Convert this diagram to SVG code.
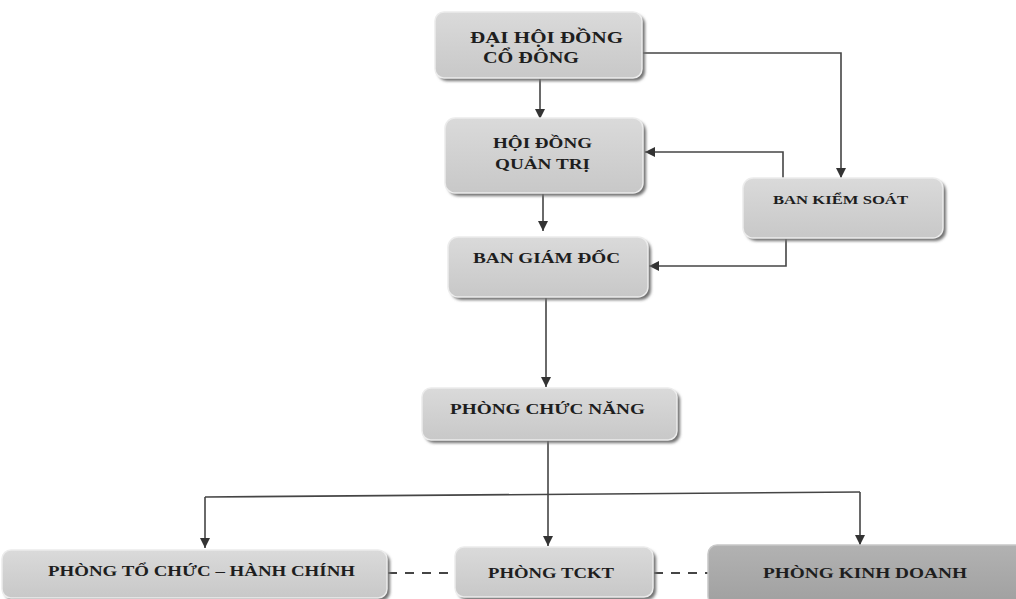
<svg xmlns="http://www.w3.org/2000/svg" width="1016" height="599" viewBox="0 0 1016 599">
<style>
.box{fill:url(#g);stroke:#ececec;stroke-width:1.5}
.dark{fill:url(#gd);stroke:#c8c8c8;stroke-width:1.5}
.sh{fill:#707070;filter:url(#blur)}
.t{font-family:"Liberation Serif","Times New Roman",serif;font-weight:bold;font-size:15px;fill:#1e1e1e;text-anchor:middle}
.ln{fill:none;stroke:#454545;stroke-width:1.6}
.dash{fill:none;stroke:#454545;stroke-width:1.8;stroke-dasharray:9 8}
</style>
<defs>
<linearGradient id="g" x1="0" y1="0" x2="0" y2="1">
<stop offset="0" stop-color="#dadada"/>
<stop offset="1" stop-color="#c8c8c8"/>
</linearGradient>
<linearGradient id="gd" x1="0" y1="0" x2="0" y2="1">
<stop offset="0" stop-color="#b2b2b2"/>
<stop offset="1" stop-color="#a0a0a0"/>
</linearGradient>
<filter id="blur" x="-10%" y="-20%" width="120%" height="140%">
<feGaussianBlur stdDeviation="1.5"/>
</filter>
<marker id="ah" viewBox="0 0 10 10" refX="10" refY="5" markerWidth="10" markerHeight="10" markerUnits="userSpaceOnUse" orient="auto">
<path d="M0,0 L10,5 L0,10 Z" fill="#333333"/>
</marker>
</defs>
<rect width="1016" height="599" fill="#ffffff"/>

<g id="connectors">
<line class="ln" x1="540" y1="78" x2="540" y2="119" marker-end="url(#ah)"/>
<polyline class="ln" points="642,53 841,53 841,178" marker-end="url(#ah)"/>
<line class="ln" x1="543" y1="193" x2="543" y2="231" marker-end="url(#ah)"/>
<polyline class="ln" points="783,178 783,152 645,152" marker-end="url(#ah)"/>
<polyline class="ln" points="786,238 786,266 649,266" marker-end="url(#ah)"/>
<line class="ln" x1="546" y1="297" x2="546" y2="387" marker-end="url(#ah)"/>
<line class="ln" x1="548" y1="440" x2="548" y2="494.5"/>
<line class="ln" x1="205" y1="497" x2="860" y2="492"/>
<line class="ln" x1="205" y1="497" x2="205" y2="548" marker-end="url(#ah)"/>
<line class="ln" x1="548" y1="494.5" x2="548" y2="546" marker-end="url(#ah)"/>
<line class="ln" x1="860" y1="492" x2="860" y2="545" marker-end="url(#ah)"/>
<line class="dash" x1="388" y1="573" x2="455" y2="573"/>
<line class="dash" x1="654" y1="573" x2="708" y2="573"/>
</g>

<g id="dai-hoi-dong-co-dong">
<rect class="sh" x="438" y="15" width="207" height="66" rx="9"/>
<rect class="box" x="435" y="12" width="207" height="66" rx="9"/>
<text class="t" style="font-size:16px" x="546.5" y="43" textLength="153" lengthAdjust="spacingAndGlyphs">ĐẠI HỘI ĐỒNG</text>
<text class="t" style="font-size:16px" x="531" y="63" textLength="96" lengthAdjust="spacingAndGlyphs">CỔ ĐÔNG</text>
</g>

<g id="hoi-dong-quan-tri">
<rect class="sh" x="448" y="121" width="198" height="75" rx="10"/>
<rect class="box" x="445" y="118" width="198" height="75" rx="10"/>
<text class="t" x="542.5" y="148" textLength="99" lengthAdjust="spacingAndGlyphs">HỘI ĐỒNG</text>
<text class="t" x="542.5" y="169" textLength="95" lengthAdjust="spacingAndGlyphs">QUẢN TRỊ</text>
</g>

<g id="ban-kiem-soat">
<rect class="sh" x="746" y="181" width="200" height="60" rx="10"/>
<rect class="box" x="743" y="178" width="200" height="60" rx="10"/>
<text class="t" style="font-size:13px" x="840.5" y="204" textLength="135" lengthAdjust="spacingAndGlyphs">BAN KIỂM SOÁT</text>
</g>

<g id="ban-giam-doc">
<rect class="sh" x="451" y="240" width="200" height="60" rx="10"/>
<rect class="box" x="448" y="237" width="200" height="60" rx="10"/>
<text class="t" x="546.5" y="263" textLength="147" lengthAdjust="spacingAndGlyphs">BAN GIÁM ĐỐC</text>
</g>

<g id="phong-chuc-nang">
<rect class="sh" x="425" y="391" width="255" height="52" rx="9"/>
<rect class="box" x="422" y="388" width="255" height="52" rx="9"/>
<text class="t" x="547.5" y="414" textLength="195" lengthAdjust="spacingAndGlyphs">PHÒNG CHỨC NĂNG</text>
</g>

<g id="phong-to-chuc-hanh-chinh">
<rect class="sh" x="5" y="553" width="385" height="48" rx="9"/>
<rect class="box" x="2" y="550" width="385" height="48" rx="9"/>
<text class="t" x="201.5" y="576" textLength="307" lengthAdjust="spacingAndGlyphs">PHÒNG TỔ CHỨC – HÀNH CHÍNH</text>
</g>

<g id="phong-tckt">
<rect class="sh" x="458" y="550" width="198" height="50" rx="9"/>
<rect class="box" x="455" y="547" width="198" height="50" rx="9"/>
<text class="t" x="551" y="578" textLength="126" lengthAdjust="spacingAndGlyphs">PHÒNG TCKT</text>
</g>

<g id="phong-kinh-doanh">
<rect class="sh" x="711" y="548" width="320" height="60" rx="9"/>
<rect class="dark" x="708" y="545" width="320" height="60" rx="9"/>
<text class="t" x="865" y="578" textLength="204" lengthAdjust="spacingAndGlyphs">PHÒNG KINH DOANH</text>
</g>
</svg>
